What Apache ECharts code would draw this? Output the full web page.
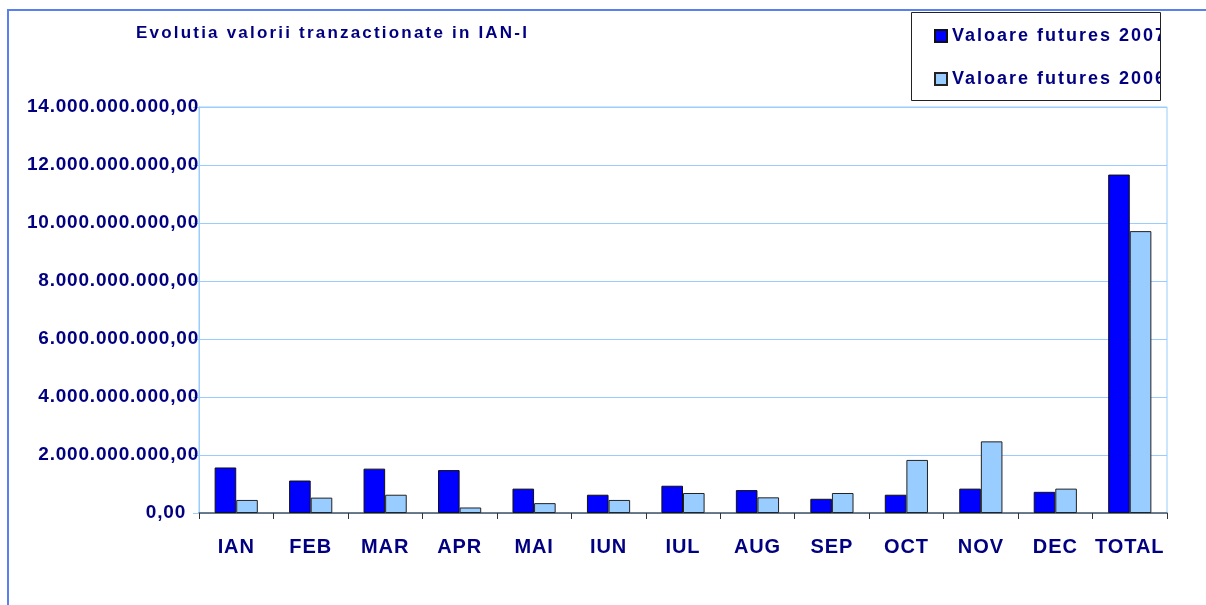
<!DOCTYPE html>
<html>
<head>
<meta charset="utf-8">
<script src="https://cdn.jsdelivr.net/npm/echarts@6/dist/echarts.min.js"></script>
<style>
html,body{margin:0;padding:0;background:#fff;}
#chart{width:1206px;height:605px;}
</style>
</head>
<body>
<div id="chart"></div>
<script>
// ---- data ----
var titleText = 'Evolutia valorii tranzactionate in IAN-I';
var categories = ['IAN','FEB','MAR','APR','MAI','IUN','IUL','AUG','SEP','OCT','NOV','DEC','TOTAL'];
var seriesNames = ['Valoare futures 2007','Valoare futures 2006'];
var values2007 = [1570000000,1120000000,1530000000,1480000000,840000000,630000000,940000000,790000000,490000000,630000000,840000000,730000000,11670000000];
var values2006 = [450000000,530000000,630000000,190000000,340000000,450000000,690000000,540000000,690000000,1830000000,2470000000,840000000,9720000000];
var yMin = 0, yMax = 14000000000, yStep = 2000000000;

// letter spacing per font size (the reference text is tracked out)
var LS = {'17': 2.2, '18': 2.0, '19': 0.8, '20': 0.9};
function lsFor(font){
  var m = /(\d+(?:\.\d+)?)px/.exec(font || '');
  return (m && LS[m[1]] != null) ? LS[m[1]] + 'px' : '0px';
}
['fillText','strokeText','measureText'].forEach(function(fn){
  var orig = CanvasRenderingContext2D.prototype[fn];
  CanvasRenderingContext2D.prototype[fn] = function(){
    var prev = this.letterSpacing;
    try { this.letterSpacing = lsFor(this.font); } catch(e){}
    try { return orig.apply(this, arguments); }
    finally { try { this.letterSpacing = prev; } catch(e){} }
  };
});

function fmt(v){
  var s = Math.round(v).toString();
  var out = '';
  while (s.length > 3){ out = '.' + s.slice(-3) + out; s = s.slice(0, -3); }
  return s + out + ',00';
}

var NAVY = '#000080';
var FONT = 'Liberation Sans';

var chart = echarts.init(document.getElementById('chart'), null, {renderer:'canvas'});
chart.setOption({
  animation: false,
  backgroundColor: '#ffffff',
  title: {
    text: titleText,
    left: 136, top: 24, padding: 0,
    textStyle: {color: NAVY, fontFamily: FONT, fontWeight: 'bold', fontSize: 17}
  },
  legend: {
    data: seriesNames,
    orient: 'vertical',
    left: 934, top: 26, padding: 0,
    itemWidth: 12, itemHeight: 12, itemGap: 23,
    icon: 'rect',
    textStyle: {color: NAVY, fontFamily: FONT, fontWeight: 'bold', fontSize: 18}
  },
  grid: {
    left: 199, top: 107, width: 968, height: 406,
    show: true, borderColor: '#99ccff', borderWidth: 1, containLabel: false
  },
  xAxis: {
    type: 'category',
    data: categories,
    axisLine: {show: true, lineStyle: {color: '#4f5964', width: 1.5}},
    axisTick: {show: true, alignWithLabel: false, length: 6, lineStyle: {color: '#333'}},
    axisLabel: {color: NAVY, fontFamily: FONT, fontWeight: 'bold', fontSize: 20, margin: 24, interval: 0},
    splitLine: {show: false}
  },
  yAxis: {
    type: 'value',
    min: yMin, max: yMax, interval: yStep,
    axisLine: {show: true, lineStyle: {color: '#99ccff'}},
    axisTick: {show: true, length: 6, lineStyle: {color: '#99ccff'}},
    splitLine: {show: true, lineStyle: {color: '#99ccff', width: 1}},
    axisLabel: {
      color: NAVY, fontFamily: FONT, fontWeight: 'bold', fontSize: 19, margin: 0,
      formatter: function(v){ return v === 0 ? '{z|' + fmt(v) + '}' : fmt(v); },
      rich: {z: {color: NAVY, fontFamily: FONT, fontWeight: 'bold', fontSize: 19, padding: [0, 13, 0, 0]}}
    }
  },
  series: [
    {
      name: seriesNames[0], type: 'bar', data: values2007,
      barGap: '0%', barCategoryGap: '42%',
      itemStyle: {color: '#0000ff', borderColor: '#111', borderWidth: 1}
    },
    {
      name: seriesNames[1], type: 'bar', data: values2006,
      barGap: '0%', barCategoryGap: '42%',
      itemStyle: {color: '#99ccff', borderColor: '#222', borderWidth: 1}
    }
  ],
  graphic: {
    elements: [
      {type: 'rect', z: 100, silent: true,
       shape: {x: 8, y: 10, width: 1400, height: 800},
       style: {fill: 'none', stroke: '#5a80f0', lineWidth: 2}},
      {type: 'rect', z: 100, silent: true,
       shape: {x: 1161, y: 13, width: 45, height: 86},
       style: {fill: '#ffffff', stroke: 'none'}},
      {type: 'rect', z: 101, silent: true,
       shape: {x: 911.5, y: 12.5, width: 249, height: 88},
       style: {fill: 'none', stroke: '#222', lineWidth: 1}}
    ]
  }
});
</script>
</body>
</html>
